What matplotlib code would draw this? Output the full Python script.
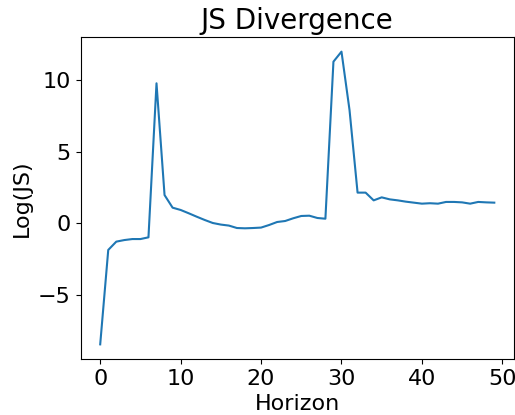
import matplotlib
matplotlib.use("Agg")
import matplotlib.pyplot as plt

horizon = list(range(50))
log_js = [-8.45, -1.86, -1.28, -1.17, -1.10, -1.10, -0.98, 9.77, 1.97, 1.09,
          0.93, 0.70, 0.46, 0.23, 0.02, -0.09, -0.16, -0.33, -0.35, -0.33,
          -0.30, -0.12, 0.09, 0.16, 0.35, 0.51, 0.53, 0.37, 0.32, 11.28,
          11.98, 7.90, 2.14, 2.14, 1.60, 1.81, 1.67, 1.60, 1.51, 1.44,
          1.37, 1.40, 1.37, 1.49, 1.49, 1.46, 1.37, 1.49, 1.46, 1.44]

plt.rcParams["font.size"] = 16
fig = plt.figure(figsize=(5.15, 4.15), dpi=100)
ax = fig.add_axes([80.5 / 515, 56 / 415, 433.5 / 515, 322 / 415])
ax.plot(horizon, log_js)
ax.set_title("JS Divergence", fontsize=20)
ax.set_xlabel("Horizon")
ax.set_ylabel("Log(JS)")
fig.savefig("out.png", dpi=100)
